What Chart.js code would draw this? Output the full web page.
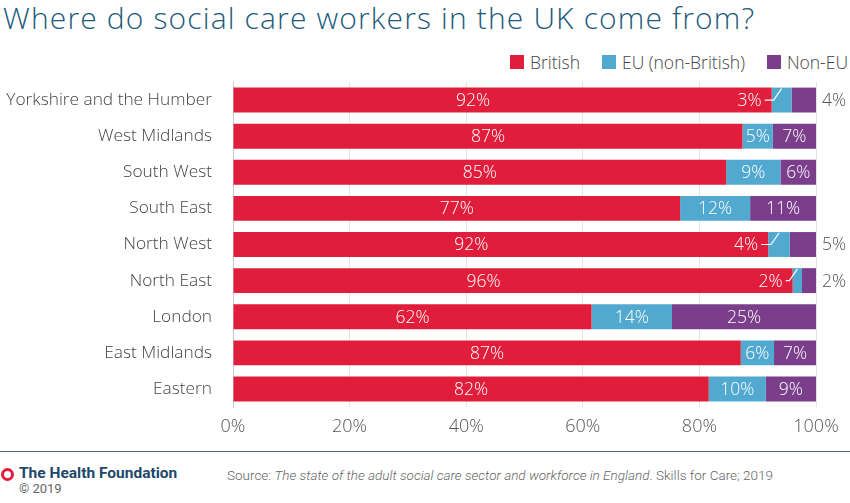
<!DOCTYPE html>
<html>
<head>
<meta charset="utf-8">
<script src="https://cdn.jsdelivr.net/npm/chart.js@4"></script>
<style>
  body { margin: 0; width: 850px; height: 503px; background: #fff; position: relative; overflow: hidden; font-family: "Open Sans", "Liberation Sans", sans-serif; }
  #titre { position: absolute; left: 3px; top: -3px; font-size: 30px; letter-spacing: 1.15px; font-weight: 300; color: #1d5a7b; white-space: nowrap; }
  #legenda { position: absolute; right: 2px; top: 50px; height: 24px; font-size: 17.5px; font-weight: 300; color: #444; white-space: nowrap; display: flex; }
  #legenda span.item { display: flex; align-items: center; margin-left: 22px; }
  #legenda span.caixa { display: inline-block; width: 14px; height: 14px; margin-right: 6px; }
  #zone { position: absolute; left: 0; top: 53px; width: 850px; height: 396px; }
  #regle { position: absolute; left: 0; top: 451px; width: 850px; height: 0; border-top: 1.5px solid #4d677a; }
  #logo { position: absolute; left: 1px; top: 468px; width: 7px; height: 7px; border: 3px solid #e01e3c; border-radius: 50%; }
  #fondation { position: absolute; left: 19px; top: 464px; font-size: 15.5px; font-weight: 700; color: #22476b; font-family: Roboto, sans-serif; }
  #annee { position: absolute; left: 19px; top: 481px; font-size: 13px; color: #666; font-family: Roboto, sans-serif; }
  #fonte { position: absolute; left: 227px; top: 467px; font-size: 13.5px; font-weight: 300; color: #666; white-space: nowrap; font-family: Roboto, sans-serif; }
</style>
</head>
<body>
<div id="titre">Where do social care workers in the UK come from?</div>
<div id="legenda"></div>
<div id="zone"><canvas id="grafico"></canvas></div>
<div id="regle"></div>
<div id="logo"></div>
<div id="fondation">The Health Foundation</div>
<div id="annee">© 2019</div>
<div id="fonte">Source: <i>The state of the adult social care sector and workforce in England</i>. Skills for Care; 2019</div>
<script>
const regioes = ["Yorkshire and the Humber", "West Midlands", "South West", "South East", "North West", "North East", "London", "East Midlands", "Eastern"];
const britanicos = [92.4, 87.4, 84.6, 76.7, 91.8, 96.0, 61.5, 87.1, 81.6];
const europeus = [3.4, 5.2, 9.3, 12.0, 3.7, 1.6, 13.8, 5.7, 9.8];
const naoEuropeus = [4.2, 7.4, 6.1, 11.3, 4.5, 2.4, 24.7, 7.2, 8.6];
const marcas = [0, 20, 40, 60, 80, 100];

const fonteLeve = "'Open Sans', 'Liberation Sans', sans-serif";

// rótulos dentro das barras, com chamada para os segmentos pequenos
const rotulos = {
  id: "rotulos",
  afterDatasetsDraw(chart) {
    const ctx = chart.ctx;
    const metaB = chart.getDatasetMeta(0);
    const metaE = chart.getDatasetMeta(1);
    const metaN = chart.getDatasetMeta(2);
    ctx.save();
    ctx.font = "300 17.5px " + fonteLeve;
    ctx.textBaseline = "middle";
    regioes.forEach((r, i) => {
      const b = metaB.data[i], e = metaE.data[i], n = metaN.data[i];
      const y = b.y + 1;
      const txtB = Math.round(britanicos[i]) + "%";
      const txtE = Math.round(europeus[i]) + "%";
      const txtN = Math.round(naoEuropeus[i]) + "%";
      const pequeno = europeus[i] < 5;
      ctx.fillStyle = "#fff";
      if (pequeno) {
        const fimTexto = b.x - 10;
        ctx.textAlign = "right";
        ctx.fillText(txtE, fimTexto, y);
        const inicio = fimTexto - ctx.measureText(txtE).width;
        const centroE = (e.base + e.x) / 2;
        ctx.strokeStyle = "#fff";
        ctx.lineWidth = 1.2;
        ctx.beginPath();
        ctx.moveTo(fimTexto + 3, b.y);
        ctx.lineTo(centroE - 8, b.y);
        ctx.lineTo(centroE, b.y - e.height / 2 + 1);
        ctx.stroke();
        ctx.textAlign = "center";
        ctx.fillText(txtB, (b.base + inicio - 25) / 2, y);
        ctx.textAlign = "left";
        ctx.fillStyle = "#555";
        ctx.fillText(txtN, n.x + 6, y);
      } else {
        ctx.textAlign = "center";
        ctx.fillText(txtB, (b.base + b.x) / 2, y);
        ctx.fillText(txtE, (e.base + e.x) / 2, y);
        ctx.fillText(txtN, (n.base + n.x) / 2, y);
      }
    });
    ctx.restore();
  }
};

const grafico = new Chart(document.getElementById("grafico"), {
  type: "bar",
  data: {
    labels: regioes,
    datasets: [
      { label: "British", data: britanicos, backgroundColor: "#e01e3c" },
      { label: "EU (non-British)", data: europeus, backgroundColor: "#52a9d0" },
      { label: "Non-EU", data: naoEuropeus, backgroundColor: "#7b3e8b" }
    ]
  },
  options: {
    indexAxis: "y",
    responsive: true,
    maintainAspectRatio: false,
    animation: false,
    datasets: { bar: { categoryPercentage: 0.69, barPercentage: 1 } },
    layout: { padding: { left: 0, right: 34, top: 29, bottom: 0 } },
    scales: {
      x: {
        stacked: true,
        min: 0,
        max: 100,
        afterBuildTicks: (axis) => { axis.ticks = marcas.map((v) => ({ value: v })); },
        afterFit: (axis) => { axis.height = 42; },
        ticks: { callback: (v) => v + "%", color: "#555", font: { family: fonteLeve, size: 18, weight: 300 }, padding: 9 },
        grid: { color: "#e3e3e3", drawTicks: false },
        border: { display: false }
      },
      y: {
        stacked: true,
        afterFit: (axis) => { axis.width = 233; },
        ticks: { color: "#444", font: { family: fonteLeve, size: 17.3, weight: 300 }, padding: 13 },
        grid: { display: false },
        border: { display: true, color: "#c8c8c8" }
      }
    },
    plugins: {
      legend: { display: false },
      tooltip: { enabled: false }
    }
  },
  plugins: [rotulos]
});

// legenda em HTML a partir das séries
const legenda = document.getElementById("legenda");
grafico.data.datasets.forEach((ds) => {
  const item = document.createElement("span");
  item.className = "item";
  item.innerHTML = `<span class="caixa" style="background:${ds.backgroundColor}"></span>${ds.label}`;
  legenda.appendChild(item);
});
</script>
</body>
</html>
